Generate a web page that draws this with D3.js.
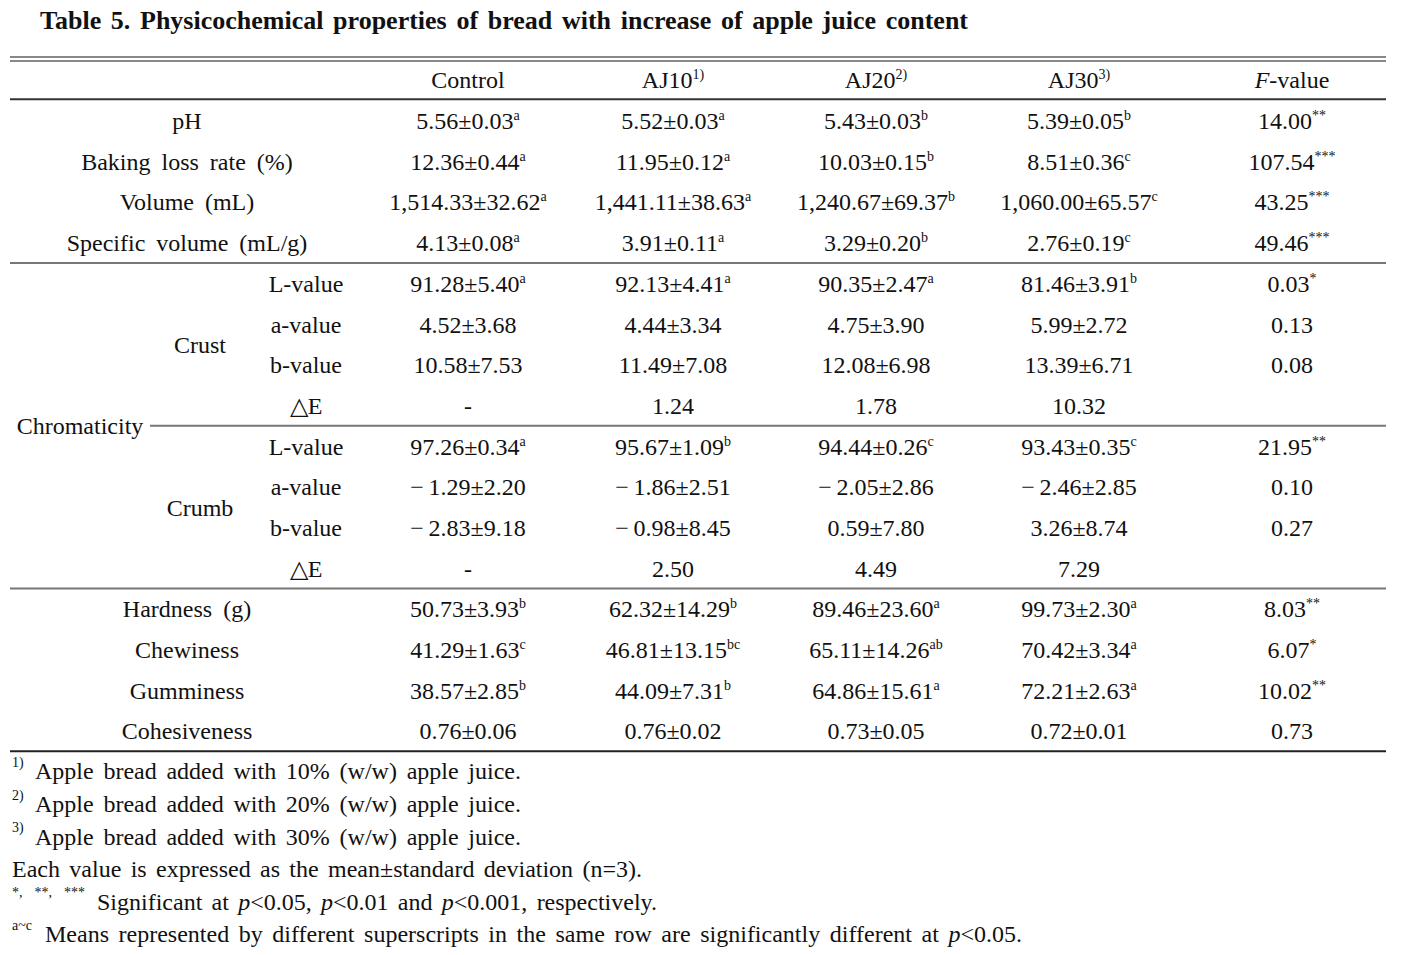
<!DOCTYPE html>
<html>
<head>
<meta charset="utf-8">
<style>
  body { margin: 0; background: #fff; }
  text { font-family: "Liberation Serif", "Times New Roman", serif; font-size: 24px; fill: #111; }
  .title { font-weight: bold; font-size: 26px; }
</style>
</head>
<body>
<svg width="1406" height="955"></svg>
<script src="https://d3js.org/d3.v7.min.js"></script>
<script>

var titleText = "Table 5. Physicochemical properties of bread with increase of apple juice content";

var columns = ["Control", "AJ10", "AJ20", "AJ30"];
var columnNotes = ["", "1)", "2)", "3)"];

var generalLabels = ["pH", "Baking loss rate (%)", "Volume (mL)", "Specific volume (mL/g)"];
var generalValues = [
  ["5.56±0.03", "5.52±0.03", "5.43±0.03", "5.39±0.05"],
  ["12.36±0.44", "11.95±0.12", "10.03±0.15", "8.51±0.36"],
  ["1,514.33±32.62", "1,441.11±38.63", "1,240.67±69.37", "1,060.00±65.57"],
  ["4.13±0.08", "3.91±0.11", "3.29±0.20", "2.76±0.19"]
];
var generalLetters = [["a", "a", "b", "b"], ["a", "a", "b", "c"], ["a", "a", "b", "c"], ["a", "a", "b", "c"]];
var generalF = ["14.00", "107.54", "43.25", "49.46"];
var generalSig = ["**", "***", "***", "***"];

var colorLabels = ["L-value", "a-value", "b-value", "△E"];
var crustValues = [
  ["91.28±5.40", "92.13±4.41", "90.35±2.47", "81.46±3.91"],
  ["4.52±3.68", "4.44±3.34", "4.75±3.90", "5.99±2.72"],
  ["10.58±7.53", "11.49±7.08", "12.08±6.98", "13.39±6.71"],
  ["-", "1.24", "1.78", "10.32"]
];
var crustLetters = [["a", "a", "a", "b"], ["", "", "", ""], ["", "", "", ""], ["", "", "", ""]];
var crustF = ["0.03", "0.13", "0.08", ""];
var crustSig = ["*", "", "", ""];

var crumbValues = [
  ["97.26±0.34", "95.67±1.09", "94.44±0.26", "93.43±0.35"],
  ["\u2212\u20091.29±2.20", "\u2212\u20091.86±2.51", "\u2212\u20092.05±2.86", "\u2212\u20092.46±2.85"],
  ["\u2212\u20092.83±9.18", "\u2212\u20090.98±8.45", "0.59±7.80", "3.26±8.74"],
  ["-", "2.50", "4.49", "7.29"]
];
var crumbLetters = [["a", "b", "c", "c"], ["", "", "", ""], ["", "", "", ""], ["", "", "", ""]];
var crumbF = ["21.95", "0.10", "0.27", ""];
var crumbSig = ["**", "", "", ""];

var textureLabels = ["Hardness (g)", "Chewiness", "Gumminess", "Cohesiveness"];
var textureValues = [
  ["50.73±3.93", "62.32±14.29", "89.46±23.60", "99.73±2.30"],
  ["41.29±1.63", "46.81±13.15", "65.11±14.26", "70.42±3.34"],
  ["38.57±2.85", "44.09±7.31", "64.86±15.61", "72.21±2.63"],
  ["0.76±0.06", "0.76±0.02", "0.73±0.05", "0.72±0.01"]
];
var textureLetters = [["b", "b", "a", "a"], ["c", "bc", "ab", "a"], ["b", "b", "a", "a"], ["", "", "", ""]];
var textureF = ["8.03", "6.07", "10.02", "0.73"];
var textureSig = ["**", "*", "**", ""];

var footnotes = [
  { sup: "1)", parts: [{ t: "Apple bread added with 10% (w/w) apple juice." }] },
  { sup: "2)", parts: [{ t: "Apple bread added with 20% (w/w) apple juice." }] },
  { sup: "3)", parts: [{ t: "Apple bread added with 30% (w/w) apple juice." }] },
  { sup: "", parts: [{ t: "Each value is expressed as the mean±standard deviation (n=3)." }] },
  { sup: "*, **, ***", parts: [{ t: "Significant at " }, { t: "p", i: true }, { t: "<0.05, " }, { t: "p", i: true },
      { t: "<0.01 and " }, { t: "p", i: true }, { t: "<0.001, respectively." }] },
  { sup: "a~c", parts: [{ t: "Means represented by different superscripts in the same row are significantly different at " },
      { t: "p", i: true }, { t: "<0.05." }] }
];

// layout
var svg = d3.select("svg");

var y = d3.scaleLinear().domain([0, 16]).range([80, 731]);
var x = d3.scaleOrdinal()
    .domain(["label", "sub", "group", "Control", "AJ10", "AJ20", "AJ30", "F"])
    .range([187, 306, 200, 468, 673, 876, 1079, 1292]);

function cell(cx, cy, parts, anchor) {
  var t = svg.append("text")
      .attr("x", cx).attr("y", cy)
      .attr("text-anchor", anchor || "middle")
      .attr("dy", "0.35em")
      .attr("word-spacing", 5);
  parts.forEach(function(p) {
    if (!p.t) return;
    var s = t.append("tspan").text(p.t);
    if (p.i) s.style("font-style", "italic");
    if (p.sup) s.style("font-size", "14px").attr("dy", -9);
  });
  return t;
}

function fitWords(t, width) {
  t.attr("word-spacing", 0);
  var len = t.node().getComputedTextLength();
  var n = (t.text().match(/ /g) || []).length;
  if (n) t.attr("word-spacing", (width - len) / n);
}

// title
var title = svg.append("text").attr("class", "title")
    .attr("x", 40).attr("y", 29)
    .text(titleText);
fitWords(title, 928);

// rules
function rule(x1, x2, yy, color) {
  svg.append("line").attr("x1", x1).attr("x2", x2).attr("y1", yy).attr("y2", yy)
      .attr("stroke", color).attr("stroke-width", 2);
}
rule(10, 1386, 57, "#888");
rule(10, 1386, 61, "#888");
rule(10, 1386, y(0.5) - 1, "#333");
rule(10, 1386, y(4.5), "#777");
rule(150, 1386, y(8.5), "#777");
rule(10, 1386, y(12.5), "#777");
rule(10, 1386, y(16.5), "#222");

// header
columns.forEach(function(c, i) {
  cell(x(c), y(0), [{ t: c }, { t: columnNotes[i], sup: true }]);
});
cell(x("F"), y(0), [{ t: "F", i: true }, { t: "-value" }]);

function valueRow(r, vals, letters, f, sig) {
  columns.forEach(function(c, i) {
    cell(x(c), y(r), [{ t: vals[i] }, { t: letters[i], sup: true }]);
  });
  cell(x("F"), y(r), [{ t: f }, { t: sig, sup: true }]);
}

generalLabels.forEach(function(l, i) {
  cell(x("label"), y(1 + i), [{ t: l }]);
  valueRow(1 + i, generalValues[i], generalLetters[i], generalF[i], generalSig[i]);
});

colorLabels.forEach(function(l, i) {
  cell(x("sub"), y(5 + i), [{ t: l }]);
  valueRow(5 + i, crustValues[i], crustLetters[i], crustF[i], crustSig[i]);
  cell(x("sub"), y(9 + i), [{ t: l }]);
  valueRow(9 + i, crumbValues[i], crumbLetters[i], crumbF[i], crumbSig[i]);
});
cell(x("group"), y(6.5), [{ t: "Crust" }]);
cell(x("group"), y(10.5), [{ t: "Crumb" }]);
cell(80, y(8.5), [{ t: "Chromaticity" }]);

textureLabels.forEach(function(l, i) {
  cell(x("label"), y(13 + i), [{ t: l }]);
  valueRow(13 + i, textureValues[i], textureLetters[i], textureF[i], textureSig[i]);
});

// footnotes
var fnStart = [35, 35, 35, 12, 97, 45];
var fnEnd = [521, 521, 521, 642, 657, 1022];
var supEnd = [26, 26, 26, 0, 85, 35];
footnotes.forEach(function(fn, i) {
  var fy = 771 + i * 32.6;
  if (fn.sup) {
    var s = svg.append("text")
        .attr("x", 12).attr("y", fy - 4)
        .style("font-size", "14px")
        .text(fn.sup);
    fitWords(s, supEnd[i] - 12);
  }
  var t = cell(fnStart[i], fy, fn.parts, "start");
  fitWords(t, fnEnd[i] - fnStart[i]);
});

</script>
</body>
</html>
